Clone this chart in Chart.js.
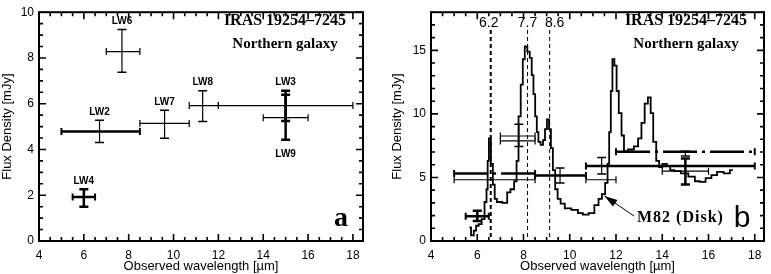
<!DOCTYPE html>
<html><head><meta charset="utf-8">
<script src="https://cdn.jsdelivr.net/npm/chart.js@4"></script>
<style>
html,body{margin:0;padding:0;background:#fff;width:771px;height:274px;overflow:hidden}
.w{position:absolute;top:0;height:274px}
</style></head><body>
<div class="w" style="left:0;width:385px"><canvas id="ca"></canvas></div>
<div class="w" style="left:385px;width:386px"><canvas id="cb"></canvas></div>
<script>
// ---------- Panel a: ISOCAM broad-band fluxes ----------
const filtersA = ['LW4','LW2','LW6','LW7','LW8','LW3','LW9'];
const wlA      = [6.0, 6.7, 7.7, 9.6, 11.3, 15.0, 15.0];
const wlLoA    = [5.5, 5.0, 7.0, 8.5, 10.7, 12.0, 14.0];
const wlHiA    = [6.5, 8.5, 8.5, 10.7, 12.0, 18.0, 16.0];
const fluxA    = [1.92, 4.79, 8.28, 5.14, 5.92, 5.92, 5.39];
const fluxLoA  = [1.50, 4.30, 7.37, 4.49, 5.22, 5.25, 4.42];
const fluxHiA  = [2.26, 5.28, 9.24, 5.71, 6.57, 6.57, 6.39];
const hWidthA  = [2.5, 2.5, 1.2, 1.2, 1.2, 1.2, 1.2];
const vWidthA  = [2.5, 1.2, 1.2, 1.2, 1.2, 2.5, 2.5];
const labelBelowA = [false,false,false,false,false,false,true];

// ---------- Panel b: broad-band fluxes + M82 disk spectrum ----------
const wlB      = [6.0, 6.7, 6.7, 7.8, 7.8, 9.58, 11.38, 11.38, 15.0, 15.0];
const wlLoB    = [5.5, 5.0, 5.0, 7.0, 7.0, 8.5, 10.7, 10.7, 12.0, 14.0];
const wlHiB    = [6.5, 8.5, 8.5, 8.5, 8.5, 10.7, 18.0, 12.0, 18.0, 16.0];
const fluxB    = [1.95, 5.32, 4.82, 8.26, 7.87, 5.15, 5.90, 4.82, 7.02, 5.49];
const fluxLoB  = [1.57, 4.82, 4.82, 7.44, 7.87, 4.57, 5.27, 4.82, 6.69, 4.44];
const fluxHiB  = [2.37, 5.32, 4.82, 9.19, 7.87, 5.74, 6.57, 4.82, 7.07, 6.50];
const hWidthB  = [2.5, 2.5, 1.2, 1.2, 1.2, 2.5, 2.5, 1.2, 2.5, 1.2];
const vWidthB  = [2.5, 0, 0, 1.2, 0, 1.2, 1.2, 0, 1.2, 2.5];
const hDashB   = [false, true, false, false, false, false, false, false, true, false];

const specWl = [5.66,5.80,5.90,6.00,6.12,6.26,6.37,6.43,6.47,6.54,6.64,6.71,6.80,6.90,7.26,7.33,7.54,7.65,7.75,7.82,7.94,8.00,8.11,8.22,8.32,8.39,8.47,8.54,8.61,8.68,8.80,8.89,8.97,9.06,9.15,9.22,9.32,9.42,9.53,9.68,9.89,10.25,10.46,10.67,10.96,11.17,11.32,11.46,11.60,11.67,11.74,11.81,11.88,11.98,12.07,12.17,12.31,12.38,12.67,12.88,13.03,13.17,13.31,13.45,13.55,13.67,13.81,13.92,14.09,14.31,14.38,14.66,14.95,15.30,15.52,15.73,16.02,16.23,16.51,16.80,17.05];
const specFlux = [1.07,0.45,0.82,1.20,1.32,1.72,3.07,4.07,6.30,8.07,6.07,4.44,3.32,3.07,3.00,3.82,4.07,4.70,6.30,9.80,12.3,14.3,15.3,14.9,14.4,13.05,11.56,9.80,8.56,7.80,7.57,7.94,8.80,9.57,8.80,7.30,5.57,4.07,3.32,2.94,2.57,2.45,2.20,2.07,2.20,2.82,3.32,3.69,4.57,6.07,8.56,11.8,14.3,13.8,11.8,10.06,8.30,7.06,7.20,7.44,8.07,9.30,10.8,11.3,10.06,7.80,6.30,5.82,6.07,5.90,5.57,5.50,5.32,5.07,4.70,4.65,4.94,5.19,5.44,5.32,5.57];

const bandRest = [6.2, 7.7, 8.6];
const bandLabels = ['6.2', '7.7', '8.6'];
const redshift = 0.0617;

const xTicks = [4,6,8,10,12,14,16,18];
const yTicksA = [0,2,4,6,8,10];
const yTicksB = [0,5,10,15];

// ---------- helpers ----------
function errSets(xs, xlo, xhi, ys, ylo, yhi, hw, vw, dash) {
  const out = [];
  for (let i = 0; i < xs.length; i++) {
    out.push({
      data: [{x: xlo[i], y: ys[i]}, {x: xhi[i], y: ys[i]}],
      showLine: true, borderColor: '#000', borderWidth: hw[i],
      borderDash: dash && dash[i] ? [34, 5, 3, 5] : [],
      pointStyle: 'line', pointRadius: 3.5, pointRotation: 90,
      pointBorderColor: '#000', pointBorderWidth: hw[i] > 2 ? 2 : 1.2, pointBackgroundColor: '#000'
    });
    if (vw[i] > 0) out.push({
      data: [{x: xs[i], y: ylo[i]}, {x: xs[i], y: yhi[i]}],
      showLine: true, borderColor: '#000', borderWidth: vw[i],
      pointStyle: 'line', pointRadius: 4.5, pointRotation: 0,
      pointBorderColor: '#000', pointBorderWidth: vw[i] > 2 ? 2.5 : 1.5, pointBackgroundColor: '#000'
    });
  }
  return out;
}

const frameTicks = {
  id: 'frameTicks',
  afterDraw(chart, args, o) {
    const {ctx, chartArea: a, scales: {x, y}} = chart;
    ctx.save();
    ctx.strokeStyle = '#000'; ctx.lineWidth = 2;
    ctx.strokeRect(a.left, a.top, a.width, a.height);
    ctx.lineWidth = 1.6;
    const nx = Math.round((x.max - x.min) / o.xMinor);
    for (let k = 0; k <= nx; k++) {
      const v = x.min + k * o.xMinor;
      if (v > x.max) break;
      const p = x.getPixelForValue(v);
      const L = (k % o.xEvery === 0) ? 7 : 4;
      ctx.beginPath(); ctx.moveTo(p, a.bottom); ctx.lineTo(p, a.bottom - L);
      ctx.moveTo(p, a.top); ctx.lineTo(p, a.top + L); ctx.stroke();
    }
    const ny = Math.round((y.max - y.min) / o.yMinor);
    for (let k = 0; k <= ny; k++) {
      const v = y.min + k * o.yMinor;
      const p = y.getPixelForValue(v);
      const L = (k % o.yEvery === 0) ? 7 : 4;
      ctx.beginPath(); ctx.moveTo(a.left, p); ctx.lineTo(a.left + L, p);
      ctx.moveTo(a.right, p); ctx.lineTo(a.right - L, p); ctx.stroke();
    }
    ctx.restore();
  }
};

const textPlugin = {
  id: 'texts',
  afterDraw(chart, args, o) {
    const {ctx, chartArea: a, scales: {x, y}} = chart;
    ctx.save();
    ctx.fillStyle = '#000'; ctx.strokeStyle = '#000'; ctx.textAlign = 'center';
    ctx.textBaseline = 'alphabetic';
    ctx.font = 'bold 16px "Liberation Serif"';
    ctx.fillText('IRAS 19254\u20137245', a.right - 78, 25);
    ctx.font = 'bold 15px "Liberation Serif"';
    ctx.fillText('Northern galaxy', a.right - 78, 48);
    ctx.textBaseline = 'middle';
    ctx.font = o.letterFont;
    ctx.fillText(o.letter, a.right - 22, 219);
    if (o.panel === 'a') {
      ctx.font = 'bold 10px "Liberation Sans"';
      for (let i = 0; i < filtersA.length; i++) {
        const px = x.getPixelForValue(wlA[i]);
        const py = labelBelowA[i] ? y.getPixelForValue(fluxLoA[i]) + 14 : y.getPixelForValue(fluxHiA[i]) - 8;
        ctx.fillText(filtersA[i], px, py);
      }
    } else {
      // PAH band lines at observed wavelengths
      ctx.font = '14px "Liberation Sans"';
      for (let i = 0; i < bandRest.length; i++) {
        const px = x.getPixelForValue(bandRest[i] * (1 + redshift));
        ctx.fillText(bandLabels[i], px + (i === 2 ? 5 : (i === 0 ? -2 : 0)), 23);
        ctx.beginPath(); ctx.setLineDash([4, 3]);
        ctx.lineWidth = i === 0 ? 2 : 1;
        ctx.moveTo(px, 30); ctx.lineTo(px, a.bottom); ctx.stroke();
      }
      ctx.setLineDash([]);
      // M82 label + arrow
      ctx.font = 'bold 16px "Liberation Serif"';
      ctx.letterSpacing = '1px';
      ctx.textAlign = 'left';
      ctx.fillText('M82 (Disk)', 252, 218);
      ctx.letterSpacing = '0px';
      const tx = x.getPixelForValue(11.5), ty = y.getPixelForValue(3.55);
      const sx = 249, sy = 216;
      ctx.lineWidth = 1; ctx.beginPath(); ctx.moveTo(sx, sy); ctx.lineTo(tx, ty); ctx.stroke();
      const ang = Math.atan2(ty - sy, tx - sx);
      ctx.beginPath();
      ctx.moveTo(tx, ty);
      ctx.lineTo(tx - 13 * Math.cos(ang) + 4 * Math.sin(ang), ty - 13 * Math.sin(ang) - 4 * Math.cos(ang));
      ctx.lineTo(tx - 13 * Math.cos(ang) - 4 * Math.sin(ang), ty - 13 * Math.sin(ang) + 4 * Math.cos(ang));
      ctx.closePath(); ctx.fill();
    }
    ctx.restore();
  }
};

function axes(xmax, ymax, yTicks, yWidth, yTitlePad) {
  const tickFont = {family: '"Liberation Sans"', size: 12};
  return {
    x: {
      type: 'linear', min: 4, max: xmax,
      afterBuildTicks: s => { s.ticks = xTicks.map(v => ({value: v})); },
      afterFit: s => { s.height = 33; },
      grid: {display: false, drawTicks: false}, border: {display: false},
      ticks: {color: '#000', font: tickFont, padding: 7, maxRotation: 0, autoSkip: false},
      title: {display: true, text: 'Observed wavelength [\u00b5m]', color: '#000',
              font: {family: '"Liberation Sans"', size: 13}, padding: {top: 0, bottom: 0}}
    },
    y: {
      type: 'linear', min: 0, max: ymax,
      afterBuildTicks: s => { s.ticks = yTicks.map(v => ({value: v})); },
      afterFit: s => { s.width = yWidth; },
      grid: {display: false, drawTicks: false}, border: {display: false},
      ticks: {color: '#000', font: tickFont, padding: 5, autoSkip: false},
      title: {display: true, text: 'Flux Density [mJy]', color: '#000',
              font: {family: '"Liberation Sans"', size: 13}, padding: {top: yTitlePad, bottom: 0}}
    }
  };
}

new Chart(document.getElementById('ca'), {
  type: 'scatter',
  data: {datasets: errSets(wlA, wlLoA, wlHiA, fluxA, fluxLoA, fluxHiA, hWidthA, vWidthA, null)},
  options: {
    responsive: true, maintainAspectRatio: false, animation: false, events: [],
    layout: {padding: {left: 0, right: 22, top: 1, bottom: 0}},
    plugins: {legend: {display: false}, tooltip: {enabled: false},
      frameTicks: {xMinor: 0.5, xEvery: 4, yMinor: 0.5, yEvery: 4},
      texts: {panel: 'a', letter: 'a', letterFont: 'bold 28px "Liberation Serif"'}},
    scales: axes(18.45, 10, yTicksA, 39, 0)
  },
  plugins: [frameTicks, textPlugin]
});

const dsB = errSets(wlB, wlLoB, wlHiB, fluxB, fluxLoB, fluxHiB, hWidthB, vWidthB, hDashB);
dsB.unshift({
  data: specWl.map((w, i) => ({x: w, y: specFlux[i]})),
  showLine: true, stepped: 'middle', borderColor: '#000', borderWidth: 1.8, pointRadius: 0
});
new Chart(document.getElementById('cb'), {
  type: 'scatter',
  data: {datasets: dsB},
  options: {
    responsive: true, maintainAspectRatio: false, animation: false, events: [],
    layout: {padding: {left: 0, right: 4, top: 1, bottom: 0}},
    plugins: {legend: {display: false}, tooltip: {enabled: false},
      frameTicks: {xMinor: 0.5, xEvery: 4, yMinor: 1, yEvery: 5},
      texts: {panel: 'b', letter: 'b', letterFont: '30px "Liberation Sans"'}},
    scales: axes(18.4, 18, yTicksB, 46, 5)
  },
  plugins: [frameTicks, textPlugin]
});
</script>
</body></html>
